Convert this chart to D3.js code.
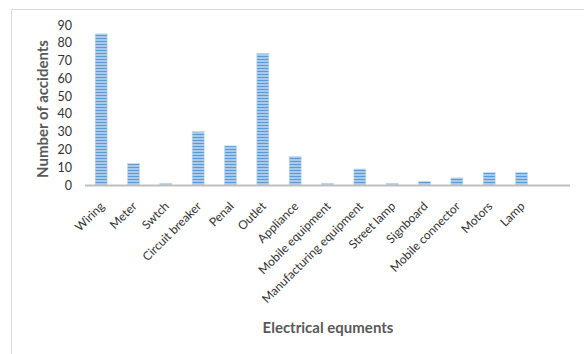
<!DOCTYPE html>
<html><head><meta charset="utf-8">
<script src="https://cdn.jsdelivr.net/npm/d3@7/dist/d3.min.js"></script>
<style>body{margin:0;background:#fff}</style>
</head><body>
<svg id="c" width="584" height="354"></svg>
<script>
const categories = ["Wiring","Meter","Swtch","Circuit breaker","Penal","Outlet","Appliance","Mobile equipment","Manufacturing equipment","Street lamp","Signboard","Mobile connector","Motors","Lamp"];
const accidents = [85,12,1,30,22,74,16,1,9,1,2,4,7,7];
const yTicks = [0,10,20,30,40,50,60,70,80,90];

const svg = d3.select("#c");
const defs = svg.append("defs");
const pat = defs.append("pattern").attr("id","stripes").attr("patternUnits","userSpaceOnUse")
  .attr("width",4).attr("height",3);
pat.append("rect").attr("width",4).attr("height",3).attr("fill","#a9c9ea");
pat.append("rect").attr("y",2).attr("width",4).attr("height",1).attr("fill","#5b9bd5");

// chart frame
svg.append("path").attr("d","M11.5,354 L11.5,9.5 L584,9.5").attr("fill","none").attr("stroke","#d9d9d9").attr("stroke-width",1);

const x = d3.scaleBand().domain(categories).range([85,537.7]).paddingInner(0.63).paddingOuter(0.315);
const y = d3.scaleLinear().domain([0,90]).range([185,25]);

svg.append("g").selectAll("rect").data(categories).join("rect")
  .attr("x",d=>x(d)).attr("width",x.bandwidth())
  .attr("y",(d,i)=>y(accidents[i])).attr("height",(d,i)=>y(0)-y(accidents[i]))
  .attr("fill","url(#stripes)").attr("stroke","#bdd7ee").attr("stroke-width",0.6);

// baseline
svg.append("line").attr("x1",85).attr("x2",570).attr("y1",185.5).attr("y2",185.5)
  .attr("stroke","#bfbfbf").attr("stroke-width",2);

// y axis labels
const yAxis = d3.axisLeft(y).tickValues(yTicks).tickSize(0).tickPadding(0);
const gy = svg.append("g").attr("transform","translate(72,0)").call(yAxis);
gy.select(".domain").remove();
gy.selectAll("text").attr("font-family","Lato, 'Open Sans', sans-serif").attr("font-size",12.5).attr("fill","#333");

// x axis labels
const xAxis = d3.axisBottom(x).tickSize(0).tickPadding(0);
const gx = svg.append("g").attr("transform","translate(0,190)").call(xAxis);
gx.select(".domain").remove();
gx.selectAll("text").attr("font-family","Lato, 'Open Sans', sans-serif").attr("font-size",12).attr("fill","#333")
  .attr("text-anchor","end").attr("dy",null).attr("y",0)
  .attr("transform","translate(4,17) rotate(-45)");

// titles
svg.append("text").attr("transform","translate(48,109) rotate(-90)").attr("text-anchor","middle")
  .attr("font-family","Lato, 'Open Sans', sans-serif").attr("font-weight","bold").attr("font-size",15)
  .attr("fill","#595959").text("Number of accidents");
svg.append("text").attr("x",328).attr("y",333).attr("text-anchor","middle")
  .attr("font-family","Lato, 'Open Sans', sans-serif").attr("font-weight","bold").attr("font-size",15)
  .attr("fill","#595959").text("Electrical equments");
</script>
</body></html>
